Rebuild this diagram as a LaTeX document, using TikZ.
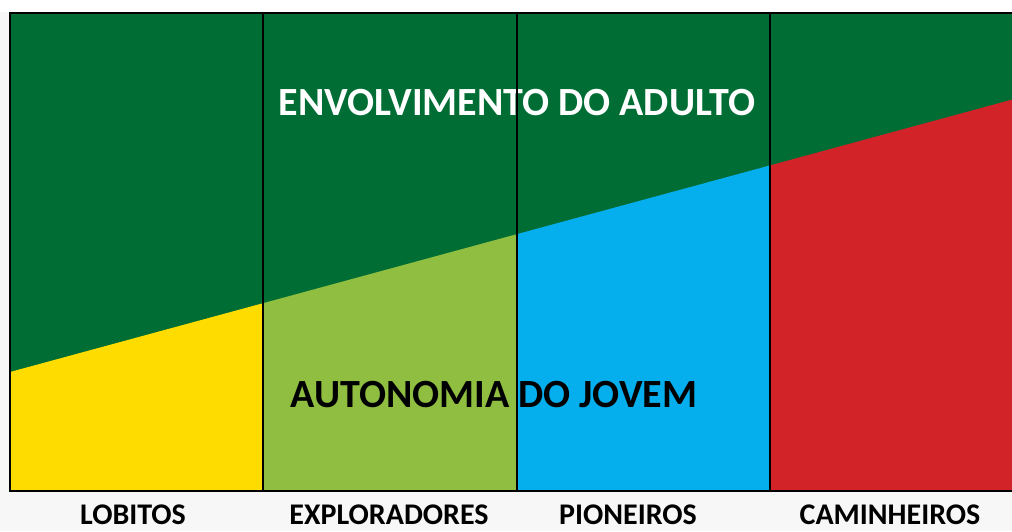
\documentclass[tikz,border=0pt]{standalone}
\usepackage{fontspec}
\setmainfont{Carlito}
\definecolor{adultgreen}{HTML}{006D34}
\definecolor{lobitoyellow}{HTML}{FFDC00}
\definecolor{exploradorgreen}{HTML}{8FBE41}
\definecolor{pioneirocyan}{HTML}{05AEEC}
\definecolor{caminheirored}{HTML}{D22329}
\definecolor{pagegray}{HTML}{F7F7F7}
\tikzset{
	etapa/.style = {font=\fontsize{30}{33}\selectfont\bfseries, text=black},
	faixa/.style = {font=\fontsize{40}{44}\selectfont\bfseries},
}
\begin{document}
\begin{tikzpicture}[x=1pt, y=-1pt]
				\useasboundingbox (0,0) rectangle (1012,531);
				\fill [fill = pagegray] (0,0) rectangle (1012,531);
				\fill [fill = white] (0,0) rectangle (1012,12);
				\fill [fill = adultgreen] (10,13) rectangle (1012,491);
				\fill [fill = lobitoyellow] (10,372) -- (263,303.2) -- (263,491) -- (10,491) -- cycle;
				\fill [fill = exploradorgreen] (263,303.2) -- (517,234.1) -- (517,491) -- (263,491) -- cycle;
				\fill [fill = pioneirocyan] (517,234.1) -- (770,165.4) -- (770,491) -- (517,491) -- cycle;
				\fill [fill = caminheirored] (770,165.4) -- (1012,99.6) -- (1012,491) -- (770,491) -- cycle;
				\node (adulto) at (517,103) [faixa, text=white] {ENVOLVIMENTO DO ADULTO};
				\node (jovem) at (494,395) [faixa, text=black] {AUTONOMIA DO JOVEM};
				\draw [line width = 2pt] (1012,13) -- (10,13) -- (10,491) -- (1012,491);
				\draw [line width = 1.6pt] (263,13) -- (263,491);
				\draw [line width = 1.6pt] (517,13) -- (517,491);
				\draw [line width = 1.6pt] (770,13) -- (770,491);
				\node (lobitos) at (133,515) [etapa] {LOBITOS};
				\node (exploradores) at (389,515) [etapa] {EXPLORADORES};
				\node (pioneiros) at (628,515) [etapa] {PIONEIROS};
				\node (caminheiros) at (890,515) [etapa] {CAMINHEIROS};
		\end{tikzpicture}
\end{document}
